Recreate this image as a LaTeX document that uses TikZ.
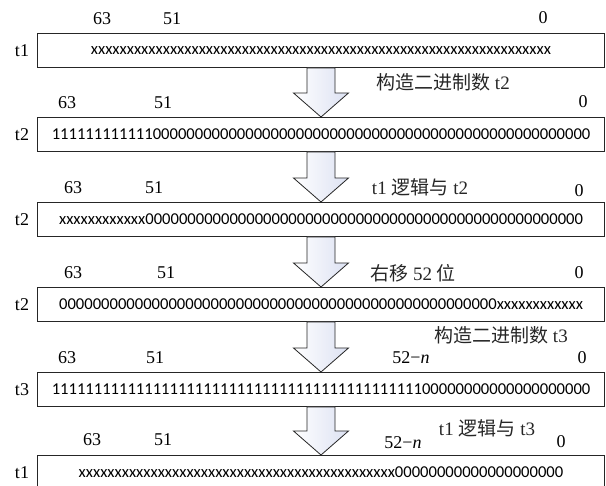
\documentclass[tikz,border=0pt]{standalone}
\usepackage{fontspec}
\setmainfont{Liberation Serif}
\newfontfamily\cjk{Noto Sans CJK SC}
\newfontfamily\bitfont{Carlito}
\usetikzlibrary{calc}
\definecolor{arrowblue}{RGB}{220,225,242}
\newcommand\myrep[2]{\foreach \myk in {1,...,#1}{#2}}
\newcommand\blockarrow[2]{%
  \path[bigarrow] ($(#1.south)+(-14,0)$) -- ($(#2.north)+(-14,-24)$) -- ($(#2.north)+(-27.5,-24)$)
    -- (#2.north) -- ($(#2.north)+(27.5,-24)$) -- ($(#2.north)+(14,-24)$) -- ($(#1.south)+(14,0)$) -- cycle;}
\begin{document}
\begin{tikzpicture}[x=1pt,y=-1pt,
  box/.style={draw=black!85, line width=1pt, minimum width=567pt, minimum height=34pt,
    inner sep=0pt, anchor=north west, font=\bitfont\fontsize{16.6}{18}\selectfont},
  num/.style={font=\fontsize{18}{20}\selectfont, inner sep=0pt, text=black},
  act/.style={font=\fontsize{19}{21}\selectfont, inner sep=0pt, text=black!85},
  rowlab/.style={font=\fontsize{18}{20}\selectfont, inner sep=0pt, text=black},
  bigarrow/.style={draw=black!85, line width=0.8pt, line join=miter, left color=white, right color=arrowblue}]
\useasboundingbox (0,0) rectangle (606,486);

% boxes
\node[box] (b1) at (37,33)  {\myrep{64}{x}};
\node[box] (b2) at (37,117) {\myrep{12}{1}\myrep{52}{0}};
\node[box] (b3) at (37,202) {\myrep{12}{x}\myrep{52}{0}};
\node[box] (b4) at (37,287) {\myrep{52}{0}\myrep{12}{x}};
\node[box] (b5) at (37,372) {\myrep{44}{1}\myrep{20}{0}};
\node[box] (b6) at (37,455) {\myrep{44}{x}\myrep{20}{0}};

% row labels
\node[rowlab] (l1) at (22,51)  {t1};
\node[rowlab] (l2) at (22,135) {t2};
\node[rowlab] (l3) at (22,220) {t2};
\node[rowlab] (l4) at (22,305) {t2};
\node[rowlab] (l5) at (22,390) {t3};
\node[rowlab] (l6) at (22,473) {t1};

% bit numbers
\node[num] (a63) at (102,19) {63};
\node[num] (a51) at (172,19) {51};
\node[num] (a0)  at (543,18) {0};

\node[num] (b63) at (67,103) {63};
\node[num] (b51) at (163,103) {51};
\node[num] (b0)  at (583,102) {0};

\node[num] (c63) at (73,188) {63};
\node[num] (c51) at (154,188) {51};
\node[num] (c0)  at (579,191) {0};

\node[num] (d63) at (73,273) {63};
\node[num] (d51) at (166,273) {51};
\node[num] (d0)  at (579,273) {0};

\node[num] (e63) at (67,358) {63};
\node[num] (e51) at (155,358) {51};
\node[num] (en)  at (411,358) {52−\textit{n}};
\node[num] (e0)  at (582,358) {0};

\node[num] (f63) at (92,440) {63};
\node[num] (f51) at (163,440) {51};
\node[num] (fn)  at (403,443) {52−\textit{n}};
\node[num] (f0)  at (561,442) {0};

% operation labels
\node[act] (o1) at (443,82)  {{\cjk 构造二进制数} t2};
\node[act] (o2) at (420,187) {t1 {\cjk 逻辑与} t2};
\node[act] (o3) at (413,273) {{\cjk 右移} 52 {\cjk 位}};
\node[act] (o4) at (501,335) {{\cjk 构造二进制数} t3};
\node[act] (o5) at (487,428) {t1 {\cjk 逻辑与} t3};

% block arrows
\blockarrow{b1}{b2}
\blockarrow{b2}{b3}
\blockarrow{b3}{b4}
\blockarrow{b4}{b5}
\blockarrow{b5}{b6}
\end{tikzpicture}
\end{document}
